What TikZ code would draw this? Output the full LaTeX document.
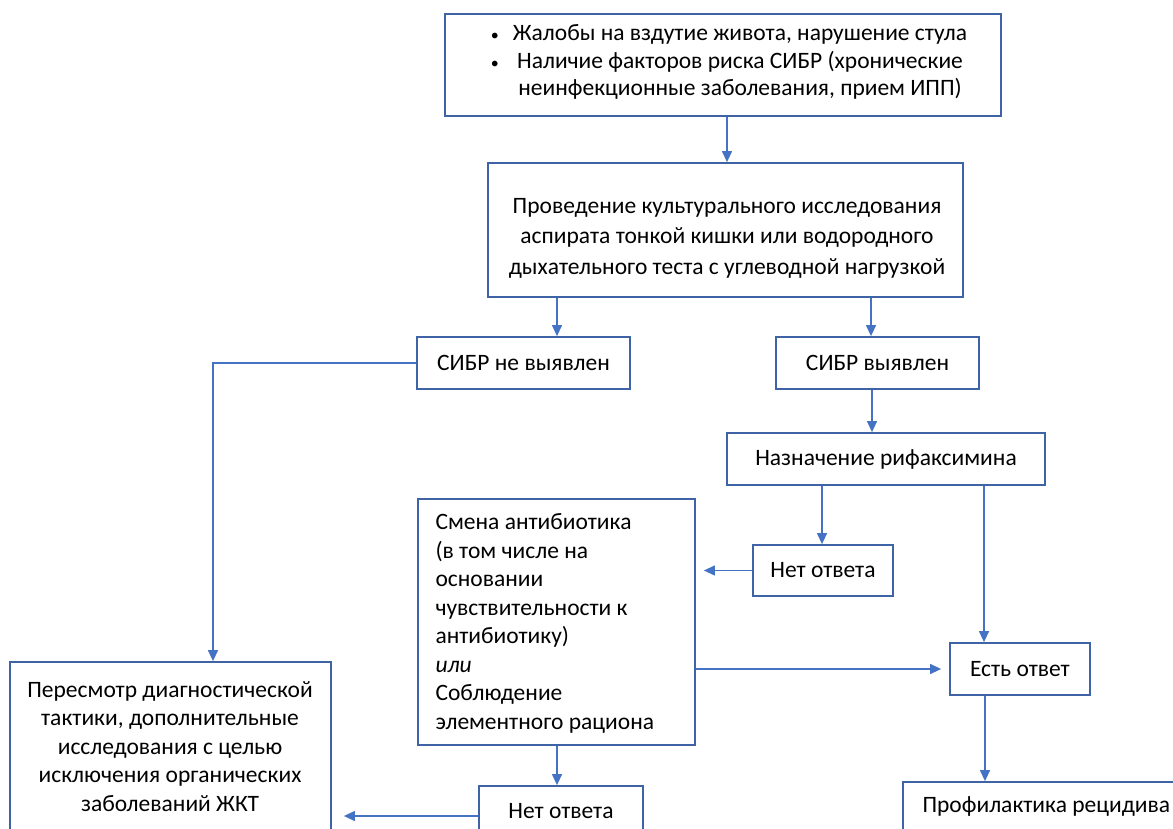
\documentclass[tikz,border=0pt]{standalone}
\usepackage{fontspec}
\setmainfont{Carlito}
\usetikzlibrary{arrows.meta,calc}
\definecolor{boxc}{HTML}{3F64A6}
\definecolor{linec}{HTML}{4472C4}
\tikzset{
  box/.style={draw=boxc, line width=1.8pt, fill=white, inner sep=0pt, text=black},
  arr/.style={draw=linec, line width=1.3pt, -{Triangle[length=11pt,width=10pt]}},
  ln/.style={draw=linec, line width=1.3pt},
  txt/.style={font=\fontsize{23.5}{28.5}\selectfont}
}
\begin{document}
\begin{tikzpicture}[x=1pt,y=-1pt]
\useasboundingbox (0,0) rectangle (1173,829);
\clip (0,0) rectangle (1173,829);
\fill[white] (0,0) rectangle (1173,829);
% boxes
\node[box, minimum width=556pt, minimum height=102pt] (b1) at (723,65) {};
\node[txt, align=center, font=\fontsize{23.5}{27.5}\selectfont] (t1) at (729,63) {\begin{tabular}{@{}c@{\hspace{14pt}}c@{}}
{\fontsize{16}{16}\selectfont•}& Жалобы на вздутие живота, нарушение стула\\
{\fontsize{16}{16}\selectfont•}& Наличие факторов риска СИБР (хронические\\
 & неинфекционные заболевания, прием ИПП)
\end{tabular}};
\node[box, minimum width=475pt, minimum height=134pt] (b2) at (725.5,230) {};
\node[txt, align=center, font=\fontsize{23.5}{30.5}\selectfont] (t2) at (727,238) {Проведение культурального исследования\\аспирата тонкой кишки или водородного\\дыхательного теста с углеводной нагрузкой};
\node[box, txt, minimum width=213pt, minimum height=52pt] (b3) at (523.5,363) {СИБР не выявлен};
\node[box, txt, minimum width=203pt, minimum height=52pt] (b4) at (877.5,363) {СИБР выявлен};
\node[box, txt, minimum width=318pt, minimum height=52pt] (b5) at (886,459) {Назначение рифаксимина};
\node[box, txt, minimum width=140pt, minimum height=51pt] (b6) at (823,570.5) {Нет ответа};
\node[box, minimum width=277pt, minimum height=246pt] (b7) at (556.5,622) {};
\node[txt, align=left, anchor=north west] (t7) at (432,510) {Смена антибиотика\\(в том числе на\\основании\\чувствительности к\\антибиотику)\\\textit{или}\\Соблюдение\\элементного рациона};
\node[box, txt, minimum width=140pt, minimum height=52pt] (b8) at (1020,669) {Есть ответ};
\node[box, minimum width=321pt, minimum height=200pt] (b9) at (170.5,762) {};
\node[txt, align=center, anchor=north] (t9) at (170,678) {Пересмотр диагностической\\тактики, дополнительные\\исследования с целью\\исключения органических\\заболеваний ЖКТ};
\node[box, minimum width=164pt, minimum height=60pt] (b10) at (561,816) {};
\node[txt] (t10) at (561,811) {Нет ответа};
\node[box, minimum width=300pt, minimum height=60pt] (b11) at (1053,812) {};
\node[txt, anchor=west] (t11) at (919,806) {Профилактика рецидива};
% connectors
\draw[arr] (b1.south -| 727,0) -- (727,0 |- b2.north);
\draw[arr] (b2.south -| 557,0) -- (557,0 |- b3.north);
\draw[arr] (b2.south -| 871,0) -- (871,0 |- b4.north);
\draw[arr] (b4.south -| 872,0) -- (872,0 |- b5.north);
\draw[arr] (b3.west) -| (b9.north -| 213,0);
\draw[arr] (b5.south -| 822,0) -- (822,0 |- b6.north);
\draw[arr] (b6.west) -- ([xshift=8pt]b7.east |- b6.west);
\draw[arr] (b5.south -| 984,0) -- ([xshift=-36pt]b8.north);
\draw[arr] (b7.east |- b8.west) -- ([xshift=-8pt]b8.west);
\draw[arr] (b8.south -| 985,0) -- (985,0 |- b11.north);
\draw[arr] (b7.south -| 557,0) -- (557,0 |- b10.north);
\draw[arr] (b10.west) -- ([xshift=12pt]b9.east |- b10.west);
\end{tikzpicture}
\end{document}
